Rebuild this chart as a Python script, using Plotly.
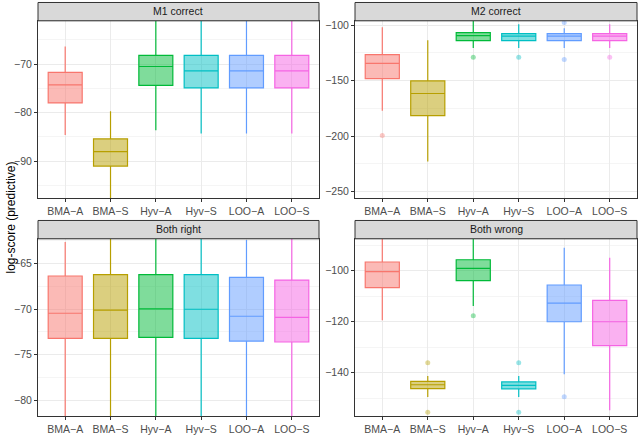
import plotly.graph_objects as go

categories = ["BMA-A", "BMA-S", "Hyv-A", "Hyv-S", "LOO-A", "LOO-S"]
tick_labels = ["BMA\u2212A", "BMA\u2212S", "Hyv\u2212A", "Hyv\u2212S", "LOO\u2212A", "LOO\u2212S"]
colors = ["#F8766D", "#B79F00", "#00BA38", "#00BFC4", "#619CFF", "#F564E3"]
panel_titles = ["M1 correct", "M2 correct", "Both right", "Both wrong"]

# M1 correct
m1_low = [-84.6, -101.0, -83.6, -84.3, -84.3, -84.3]
m1_q1 = [-78.0, -91.0, -74.4, -74.9, -74.9, -74.9]
m1_med = [-74.3, -88.0, -70.5, -71.4, -71.4, -71.4]
m1_q3 = [-71.7, -85.4, -68.2, -68.2, -68.2, -68.2]
m1_high = [-66.4, -79.7, -59.0, -59.0, -59.0, -59.0]
m1_out_cat = []
m1_out_val = []

# M2 correct
m2_low = [-177.1, -222.9, -120.5, -120.5, -120.5, -120.5]
m2_q1 = [-148.2, -181.5, -114.0, -114.0, -114.0, -114.0]
m2_med = [-134.5, -161.6, -109.5, -109.8, -109.8, -109.8]
m2_q3 = [-126.5, -150.3, -106.8, -107.7, -107.7, -107.7]
m2_high = [-101.8, -113.7, -94.0, -99.1, -102.7, -99.1]
m2_out_cat = ["BMA-A", "Hyv-A", "Hyv-S", "LOO-A", "LOO-A", "LOO-S"]
m2_out_val = [-199.4, -128.9, -128.9, -97.6, -130.9, -128.9]

# Both right
br_low = [-84.0, -84.0, -84.0, -84.0, -84.0, -84.0]
br_q1 = [-73.2, -73.2, -73.1, -73.2, -73.5, -73.6]
br_med = [-70.44, -70.1, -69.96, -70.0, -70.77, -70.9]
br_q3 = [-66.35, -66.2, -66.2, -66.2, -66.5, -66.8]
br_high = [-62.6, -61.0, -61.0, -61.0, -62.4, -61.0]
br_out_cat = []
br_out_val = []

# Both wrong
bw_low = [-119.4, -149.5, -113.8, -149.5, -140.6, -154.7]
bw_q1 = [-106.6, -146.2, -103.9, -146.3, -120.0, -129.4]
bw_med = [-100.4, -144.7, -99.1, -144.9, -112.7, -120.0]
bw_q3 = [-96.6, -143.4, -95.7, -143.6, -105.6, -111.6]
bw_high = [-85.0, -141.3, -85.0, -141.3, -91.0, -94.9]
bw_out_cat = ["BMA-S", "BMA-S", "Hyv-A", "Hyv-S", "Hyv-S", "LOO-A"]
bw_out_val = [-136.1, -155.5, -117.7, -136.1, -155.5, -149.4]

panels = [
    (m1_low, m1_q1, m1_med, m1_q3, m1_high, m1_out_cat, m1_out_val),
    (m2_low, m2_q1, m2_med, m2_q3, m2_high, m2_out_cat, m2_out_val),
    (br_low, br_q1, br_med, br_q3, br_high, br_out_cat, br_out_val),
    (bw_low, bw_q1, bw_med, bw_q3, bw_high, bw_out_cat, bw_out_val),
]

# axis settings (range, major step)
y_ranges = [[-97.6, -61.1], [-256, -96.1], [-81.75, -62.26], [-157, -87.5]]
y_steps = [10, 50, 5, 20]

W, H = 640, 435
x_doms = [[38 / W, 319 / W], [355 / W, 637 / W], [38 / W, 319 / W], [355 / W, 637 / W]]
y_doms = [[237 / H, 416 / H], [237 / H, 416 / H], [17 / H, 196 / H], [17 / H, 196 / H]]


def rgba(hex_color, a):
    h = hex_color.lstrip("#")
    r, g, b = int(h[0:2], 16), int(h[2:4], 16), int(h[4:6], 16)
    return f"rgba({r},{g},{b},{a})"


fig = go.Figure()
shapes = []
annotations = []
font_family = "Liberation Sans, Arial, sans-serif"

for p, (lo, q1, med, q3, hi, out_cat, out_val) in enumerate(panels):
    sfx = "" if p == 0 else str(p + 1)
    for i, cat in enumerate(categories):
        fig.add_trace(go.Box(
            x=[cat], q1=[q1[i]], median=[med[i]], q3=[q3[i]],
            lowerfence=[lo[i]], upperfence=[hi[i]],
            fillcolor=rgba(colors[i], 0.5),
            line=dict(color=colors[i], width=1.2),
            width=0.75, whiskerwidth=0, boxpoints=False,
            showlegend=False, hoverinfo="skip",
            xaxis="x" + sfx, yaxis="y" + sfx,
        ))
    if out_cat:
        fig.add_trace(go.Scatter(
            x=out_cat, y=out_val, mode="markers",
            marker=dict(size=5, color=[rgba(colors[categories.index(c)], 0.4) for c in out_cat]),
            showlegend=False, hoverinfo="skip",
            xaxis="x" + sfx, yaxis="y" + sfx,
        ))

    fig.layout["xaxis" + sfx] = dict(
        domain=x_doms[p], anchor="y" + sfx, type="category",
        categoryorder="array", categoryarray=categories,
        tickvals=categories, ticktext=tick_labels,
        range=[-0.6, 5.6], showgrid=True, gridcolor="#EBEBEB", gridwidth=1,
        showline=True, linecolor="#333333", linewidth=1, mirror=True,
        ticks="outside", ticklen=3, tickcolor="#333333",
        tickfont=dict(size=10.5, color="#4D4D4D", family=font_family),
        zeroline=False, fixedrange=True,
    )
    fig.layout["yaxis" + sfx] = dict(
        domain=y_doms[p], anchor="x" + sfx,
        range=y_ranges[p], tick0=0, dtick=y_steps[p],
        showgrid=True, gridcolor="#EBEBEB", gridwidth=1,
        minor=dict(dtick=y_steps[p] / 2, showgrid=True, gridcolor="#F5F5F5", gridwidth=0.6),
        showline=True, linecolor="#333333", linewidth=1, mirror=True,
        ticks="outside", ticklen=3, tickcolor="#333333",
        tickfont=dict(size=10.5, color="#4D4D4D", family=font_family),
        zeroline=False, fixedrange=True,
    )

    # facet strip
    y_top = y_doms[p][1]
    shapes.append(dict(
        type="rect", xref="paper", yref="paper",
        x0=x_doms[p][0], x1=x_doms[p][1], y0=y_top, y1=y_top + 18.5 / H,
        fillcolor="#D9D9D9", line=dict(color="#333333", width=1), layer="above",
    ))
    annotations.append(dict(
        text=panel_titles[p], xref="paper", yref="paper",
        x=(x_doms[p][0] + x_doms[p][1]) / 2, y=y_top + 9.5 / H,
        showarrow=False, xanchor="center", yanchor="middle",
        font=dict(size=10.5, color="#1A1A1A", family=font_family),
    ))

annotations.append(dict(
    text="log-score (predictive)", xref="paper", yref="paper",
    x=10 / W, y=0.5, textangle=-90, showarrow=False,
    xanchor="center", yanchor="middle",
    font=dict(size=12, color="black", family=font_family),
))

fig.update_layout(
    width=W, height=H,
    margin=dict(l=0, r=0, t=0, b=0),
    paper_bgcolor="white", plot_bgcolor="white",
    boxmode="overlay",
    shapes=shapes, annotations=annotations,
    font=dict(family=font_family),
)

# drop the default page margin so the figure sits at the window's corner
fig.write_html("out.html", config={"displayModeBar": False},
               post_script="document.body.style.margin='0';")
